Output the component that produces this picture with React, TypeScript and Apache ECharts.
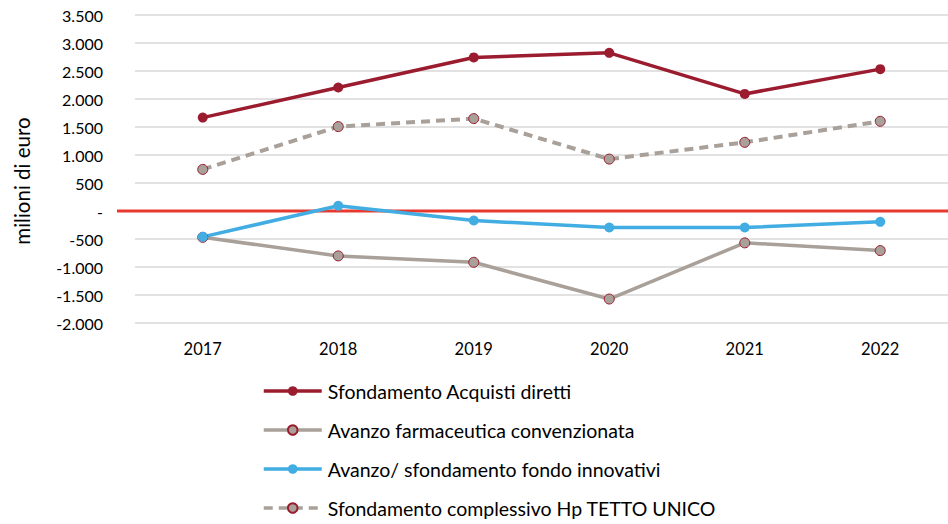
import React, { useEffect, useRef } from "react";
import * as echarts from "echarts";

const years = ["2017", "2018", "2019", "2020", "2021", "2022"];
const acquistiDiretti = [1668, 2205, 2742, 2825, 2091, 2533];
const farmConvenzionata = [-470, -802, -916, -1572, -569, -707];
const fondoInnovativi = [-462, 93, -170, -295, -295, -193];
const complessivo = [743, 1507, 1650, 927, 1226, 1602];

const seriesNames = [
  "Sfondamento Acquisti diretti",
  "Avanzo farmaceutica convenzionata",
  "Avanzo/ sfondamento fondo innovativi",
  "Sfondamento complessivo Hp TETTO UNICO",
];
const yTitle = "milioni di euro";

const FONT = "Lato";
const RED = "#9b1c2e";
const GRAY = "#a8a099";
const BLUE = "#41ade2";

function fmt(v: number): string {
  if (v === 0) return "-";
  const s = Math.abs(v).toString().replace(/\B(?=(\d{3})+(?!\d))/g, ".");
  return (v < 0 ? "-" : "") + s;
}

export default function App() {
  const ref = useRef<HTMLDivElement>(null);
  useEffect(() => {
    if (!ref.current) return;
    const chart = echarts.init(ref.current, undefined, { renderer: "svg" });
    chart.setOption({
      animation: false,
      textStyle: { fontFamily: FONT },
      grid: { left: 135, right: 0, top: 15, bottom: 201 },
      xAxis: {
        type: "category",
        data: years,
        boundaryGap: true,
        axisLine: { show: false },
        axisTick: { show: false },
        axisLabel: { color: "#000", fontSize: 16.5, margin: 17, fontFamily: FONT },
      },
      yAxis: {
        type: "value",
        min: -2000,
        max: 3500,
        interval: 500,
        axisLine: { show: false },
        axisTick: { show: false },
        axisLabel: {
          color: "#000",
          fontSize: 16,
          margin: 32,
          fontFamily: FONT,
          formatter: (v: number) => fmt(v),
        },
        splitLine: { lineStyle: { color: "#d9d9d9", width: 1.5 } },
      },
      legend: {
        orient: "vertical",
        left: 262,
        top: 381,
        padding: 0,
        itemWidth: 58,
        itemHeight: 12,
        itemGap: 19,
        lineStyle: { width: 3.5 },
        textStyle: { color: "#000", fontSize: 19.5, fontFamily: FONT, padding: [0, 0, 0, 1] },
        data: seriesNames,
      },
      series: [
        {
          name: seriesNames[0],
          type: "line",
          data: acquistiDiretti,
          symbol: "circle",
          symbolSize: 10,
          lineStyle: { color: RED, width: 3.5 },
          itemStyle: { color: RED },
        },
        {
          name: seriesNames[1],
          type: "line",
          data: farmConvenzionata,
          symbol: "circle",
          symbolSize: 10,
          lineStyle: { color: GRAY, width: 3.5 },
          itemStyle: { color: GRAY, borderColor: RED, borderWidth: 1 },
        },
        {
          name: seriesNames[2],
          type: "line",
          data: fondoInnovativi,
          symbol: "circle",
          symbolSize: 10,
          lineStyle: { color: BLUE, width: 3.5 },
          itemStyle: { color: BLUE },
        },
        {
          name: seriesNames[3],
          type: "line",
          data: complessivo,
          symbol: "circle",
          symbolSize: 10,
          lineStyle: { color: GRAY, width: 4, type: [9, 6] },
          itemStyle: { color: GRAY, borderColor: RED, borderWidth: 1 },
        },
      ],
    });
    const y0 = chart.convertToPixel({ yAxisIndex: 0 }, 0) as number;
    chart.setOption({
      graphic: [
        {
          type: "line",
          shape: { x1: 117, y1: y0, x2: 948, y2: y0 },
          style: { stroke: "#e8392e", lineWidth: 3 },
          z: 1,
        },
        {
          type: "text",
          x: 22,
          y: 181,
          rotation: Math.PI / 2,
          style: {
            text: yTitle,
            fill: "#000",
            font: `20.5px ${FONT}`,
            align: "center",
            verticalAlign: "middle",
          },
        },
      ],
    });
    return () => chart.dispose();
  }, []);
  return <div ref={ref} style={{ width: 948, height: 524, position: "absolute", left: 0, top: 0 }} />;
}
